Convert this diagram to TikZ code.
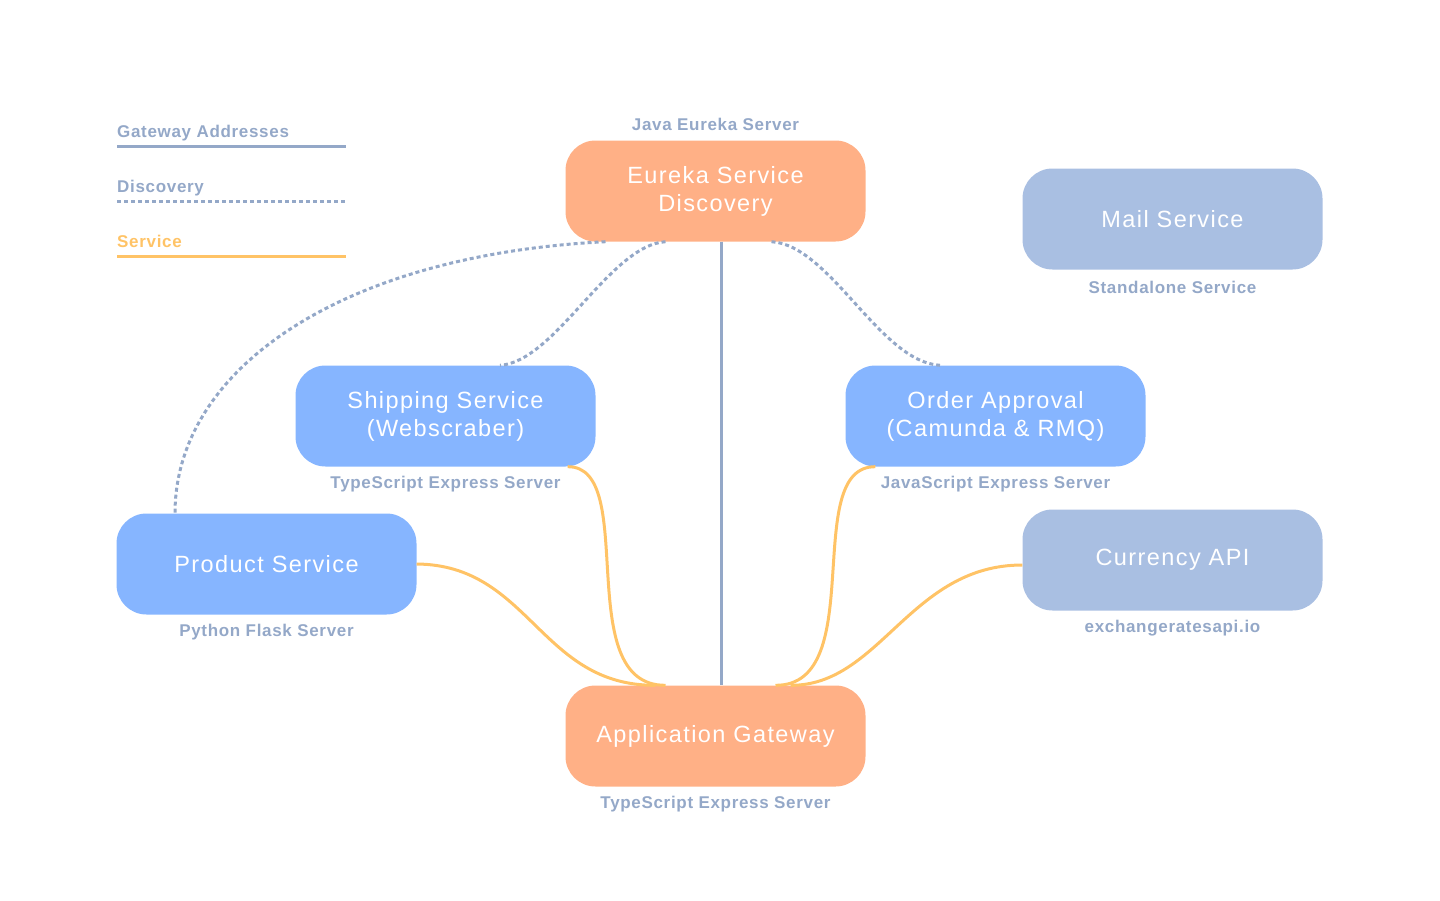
\documentclass[tikz,border=0pt]{standalone}
\usepackage{fontspec}
\setmainfont{Liberation Sans}
\newfontfamily\boxfont[LetterSpace=6]{Liberation Sans}
\newfontfamily\subfont[LetterSpace=4]{Liberation Sans}
\definecolor{orangebox}{HTML}{FFB086}
\definecolor{bluebox}{HTML}{86B5FF}
\definecolor{greybox}{HTML}{A9BFE2}
\definecolor{slateline}{HTML}{94A8C8}
\definecolor{serviceline}{HTML}{FFC366}

\begin{document}
\begin{tikzpicture}[x=1pt,y=-1pt,
	svc/.style={rounded corners=30pt, minimum width=300pt, minimum height=101pt,
		text=white, align=center, font=\boxfont\fontsize{23.5}{28}\selectfont},
	sub/.style={text=slateline, font=\subfont\bfseries\fontsize{17}{18}\selectfont},
	gateline/.style={slateline, line width=3pt},
	discline/.style={slateline, line width=3pt, dash pattern=on 4pt off 3pt},
	serviceln/.style={serviceline, line width=3pt}]
	% page frame
	\useasboundingbox (0,0) rectangle (1440,900);
	% legend
	\node[sub, anchor=base west, inner sep=0] (lgGate) at (117,137) {Gateway Addresses};
	\draw[gateline] (117,146) -- (346,146);
	\node[sub, anchor=base west, inner sep=0] (lgDisc) at (117,192) {Discovery};
	\draw[discline] (117,201) -- (346,201);
	\node[sub, anchor=base west, inner sep=0, text=serviceline] (lgServ) at (117,247) {Service};
	\draw[serviceln] (117,256) -- (346,256);
	% service boxes
	\node[svc, fill=orangebox] (eureka) at (715.5,191) {Eureka Service\\Discovery};
	\node[svc, fill=greybox] (mail) at (1172.5,219) {Mail Service};
	\node[svc, fill=bluebox] (shipping) at (445.5,416) {Shipping Service\\(Webscraber)};
	\node[svc, fill=bluebox] (order) at (995.5,416) {Order Approval\\(Camunda \& RMQ)};
	\node[svc, fill=bluebox] (product) at (266.5,564) {Product Service};
	\node[svc, fill=greybox] (currency) at (1172.5,560) {Currency API};
	\node[svc, fill=orangebox] (gateway) at (715.5,736) {Application Gateway};
	% captions
	\node[sub] (eurekaCap) at (715.5,124) {Java Eureka Server};
	\node[sub] (mailCap) at (1172.5,287) {Standalone Service};
	\node[sub] (shippingCap) at (445.5,484) {TypeScript Express Server};
	\node[sub] (orderCap) at (995.5,484) {JavaScript Express Server};
	\node[sub] (productCap) at (266.5,632) {Python Flask Server};
	\node[sub] (currencyCap) at (1172.5,628) {exchangeratesapi.io};
	\node[sub] (gatewayCap) at (715.5,804) {TypeScript Express Server};
	% gateway address line
	\draw[gateline] ([xshift=5.5pt]eureka.south) -- ([xshift=5.5pt]gateway.north);
	% discovery links
	\draw[discline] ([xshift=-110pt]eureka.south) .. controls (340,255) and (175,370) .. ([xshift=-91.5pt]product.north);
	\draw[discline] ([xshift=-50pt]eureka.south) .. controls (610,245) and (555,362) .. ([xshift=54.5pt]shipping.north);
	\draw[discline] ([xshift=56pt]eureka.south) .. controls (830,245) and (880,362) .. ([xshift=-55.5pt]order.north);
	% service links
	\draw[serviceln] (product.east) .. controls (530,565) and (540,686) .. ([xshift=-60pt]gateway.north);
	\draw[serviceln] ([xshift=-28pt]shipping.south east) .. controls (640,466) and (570,686) .. ([xshift=-50pt]gateway.north);
	\draw[serviceln] ([xshift=30pt]order.south west) .. controls (800,466) and (870,686) .. ([xshift=60pt]gateway.north);
	\draw[serviceln] ([yshift=-5pt]currency.west) .. controls (910,565) and (880,686) .. ([xshift=75pt]gateway.north);
\end{tikzpicture}
\end{document}
